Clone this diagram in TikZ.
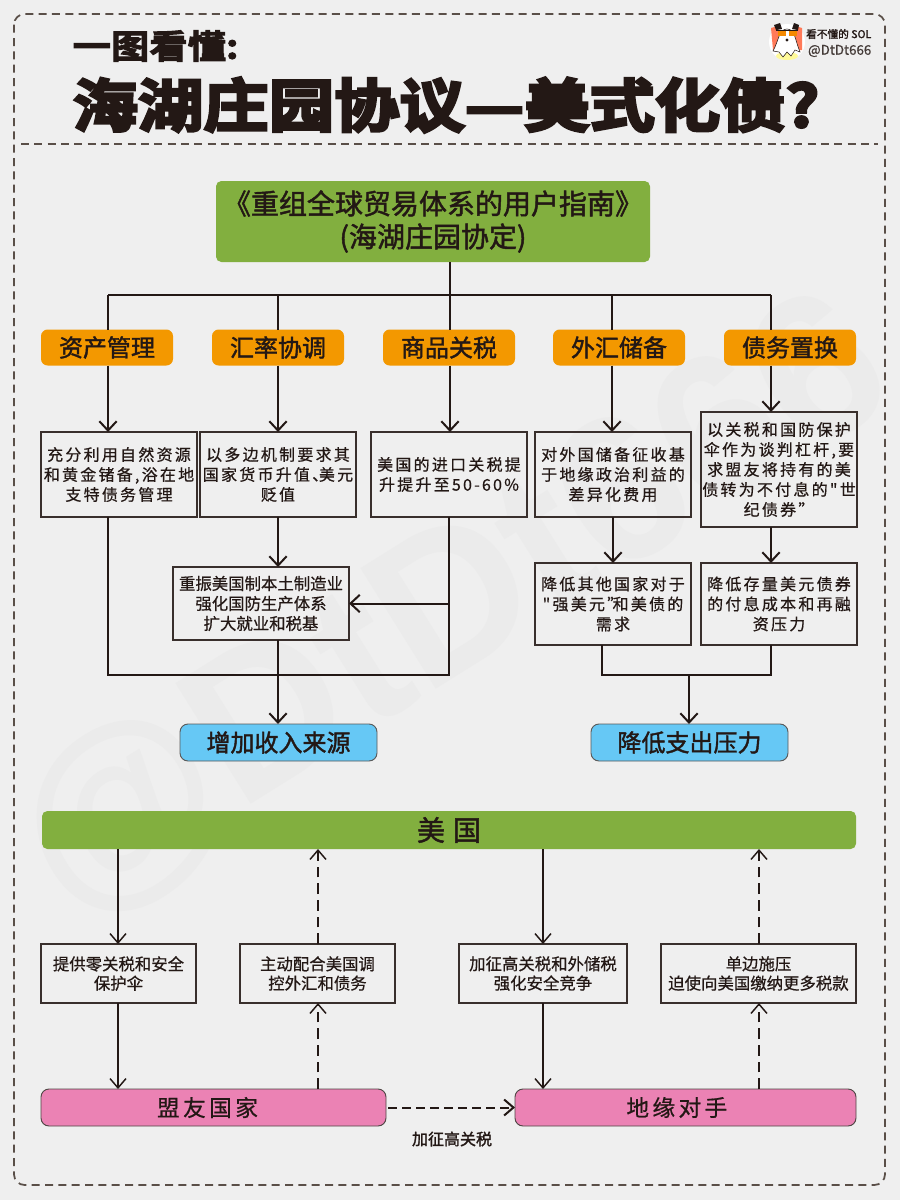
\documentclass[tikz,border=0pt]{standalone}
\usepackage{fontspec}
\usetikzlibrary{arrows.meta}
\setmainfont{Noto Sans CJK SC}
\newfontfamily\bigface[FakeStretch=1.14,FakeBold=5]{Noto Sans CJK SC Bold}
\newfontfamily\subface[FakeStretch=1.15,FakeBold=3]{Noto Sans CJK SC Bold}
\newfontfamily\bodyface[FakeBold=0.6]{Noto Sans CJK SC}
\newfontfamily\wideface[FakeBold=0.6,LetterSpace=14]{Noto Sans CJK SC}
\newfontfamily\midface[FakeBold=1.6]{Noto Sans CJK SC}
\newfontfamily\pinkface[FakeBold=0.7,LetterSpace=15]{Noto Sans CJK SC}
\newfontfamily\markface{Liberation Sans}
\definecolor{bgcol}{HTML}{EFEFEF}
\definecolor{markcol}{HTML}{EBEBEB}
\definecolor{inkcol}{HTML}{231815}
\definecolor{framecol}{HTML}{5A4F48}
\definecolor{greencol}{HTML}{82AF3F}
\definecolor{orangecol}{HTML}{F39800}
\definecolor{bluecol}{HTML}{66C8F5}
\definecolor{pinkcol}{HTML}{EB82B4}
\tikzstyle{block}=[inner sep=0pt,outer sep=0pt,align=center,text=inkcol]
\tikzstyle{greenbox}=[block,fill=greencol,rounded corners=4pt,font=\midface\fontsize{21}{24.75}\selectfont]
\tikzstyle{orangebox}=[block,fill=orangecol,rounded corners=5pt,font=\midface\fontsize{18}{20}\selectfont]
\tikzstyle{bluebox}=[block,fill=bluecol,draw=black!65,line width=0.7pt,rounded corners=6pt,font=\midface\fontsize{18}{20}\selectfont]
\tikzstyle{pinkbox}=[block,fill=pinkcol,draw=inkcol!80,line width=0.7pt,rounded corners=6pt,font=\pinkface\fontsize{17}{20}\selectfont]
\tikzstyle{textbox}=[block,draw=inkcol!90,line width=1.1pt,font=\wideface\fontsize{12}{15}\selectfont]
\tikzstyle{tightbox}=[textbox,font=\bodyface\fontsize{12.3}{15}\selectfont]
\tikzstyle{smallbox}=[textbox,font=\bodyface\fontsize{12.3}{14.5}\selectfont]
\tikzstyle{line}=[draw=inkcol,line width=1.5pt]
\tikzstyle{edge}=[line,-{Straight Barb[length=7pt,width=13pt]}]
\tikzstyle{thinedge}=[draw=inkcol,line width=1.1pt,-{Straight Barb[length=7pt,width=12pt]}]
\tikzstyle{dashedge}=[thinedge,dash pattern=on 8pt off 4.5pt]
\tikzstyle{crossedge}=[thinedge,line width=1.5pt,dash pattern=on 6.5pt off 4pt]
\tikzstyle{frame}=[draw=framecol,line width=1.3pt,dash pattern=on 6pt off 4pt]
\begin{document}
\begin{tikzpicture}[x=0.75pt,y=-0.75pt]

    \useasboundingbox[fill=bgcol] (0,0) rectangle (900,1200);
    \node[rotate=32,text=markcol,font=\markface\bfseries\fontsize{155}{155}\selectfont] (wmark) at (455,610) {@DtDt666};

    % frame and heading
    \draw[frame,rounded corners=8pt] (14,14) rectangle (885,1185);
    \coordinate (ruleL) at (21,144);
    \coordinate (ruleR) at (878,144);
    \draw[frame] (ruleL) -- (ruleR);
    \node[anchor=west,text=inkcol,font=\subface\fontsize{25}{26}\selectfont] (subtitle) at (68,46) {一图看懂:};
    \node[anchor=west,text=inkcol,font=\bigface\fontsize{43}{46}\selectfont] (title) at (68,105) {海湖庄园协议—美式化债?};

    % avatar
    \fill[white] (787,42) circle (18);
    \fill[yellow!40] (787,56) ellipse (11 and 4);
    \fill[red!60!orange!65] (771,28) -- (778,26) -- (781,50) -- (773,50) -- cycle;
    \fill[red!60!orange!65] (796,26) -- (802,28) -- (802,50) -- (794,50) -- cycle;
    \draw[inkcol,fill=white,line width=0.4pt] (773,51) .. controls (779,40) and (779,29) .. (787,29) .. controls (795,29) and (795,40) .. (800,52) -- (795,50) -- (791,56) -- (787,52) -- (783,57) -- (779,52) -- cycle;
    \fill[inkcol] (774,25) -- (780,23) -- (782,29) -- (776,30) -- cycle;
    \fill[inkcol] (794,23) -- (799,25) -- (798,30) -- (792,29) -- cycle;
    \fill[inkcol] (776,30) rectangle (798,31);
    \fill[orangecol!90!red] (778,31) rectangle (786,36);
    \fill[orangecol!90!red] (789,31) rectangle (797,36);
    \fill[inkcol] (787,40) circle (1.6);
    \node[anchor=east,text=inkcol,font=\midface\fontsize{8}{9}\selectfont] (handleA) at (876,34) {看不懂的 SOL};
    \node[anchor=east,text=inkcol!85,font=\bodyface\fontsize{10}{10}\selectfont] (handleB) at (876,51) {@DtDt666};

    % upper chart
    \node[greenbox,minimum width=325.5pt,minimum height=60.75pt] (guide) at (433,221.5) {《重组全球贸易体系的用户指南》\\(海湖庄园协定)};

    \foreach \x/\name/\lab in {107/A/资产管理, 278/B/汇率协调, 449/C/商品关税, 619/D/外汇储备, 790/E/债务置换}
        \node[orangebox,minimum width=99pt,minimum height=27pt] (org\name) at (\x,347.5) {\lab};

    \foreach \x/\name in {108/A, 278/B, 450/C, 612/D, 771/E}
        \coordinate (bus\name) at (\x,295);

    \foreach \x/\y/\w/\h/\name/\lab in {
        119/474.5/156/85/boxA/{充分利用自然资源\\和黄金锗备,浴在地\\支特债务管理},
        278/474.5/156/85/boxB/{以多边机制要求其\\国家货币升值、\hspace{-7pt}美元\\贬值},
        449/474.5/156/85/boxC/{美国的进口关税提\\升提升至50-60\%},
        613/474.5/156/85/boxD/{对外国储备征收基\\于地缘政治利益的\\差异化费用},
        779/469.5/156/115/boxE/{以关税和国防保护\\伞作为谈判杠杆,要\\求盟友将持有的美\\债转为不付息的"世\\纪债券”},
        613/604/156/82/boxG/{降低其他国家对于\\"强美元”\hspace{-8pt}和美债的\\需求},
        779/604/156/82/boxH/{降低存量美元债券\\的付息成本和再融\\资压力}}
        \node[textbox,minimum width=\w*0.75pt,minimum height=\h*0.75pt] (\name) at (\x,\y) {\lab};

    \node[tightbox,minimum width=132pt,minimum height=54.75pt] (boxF) at (261,603.5) {重振美国制本土制造业\\强化国防生产体系\\扩大就业和税基};

    \node[bluebox,minimum width=147.75pt,minimum height=27.75pt] (blueL) at (278.5,742.5) {增加收入来源};
    \node[bluebox,minimum width=147.75pt,minimum height=27.75pt] (blueR) at (689.5,742.5) {降低支出压力};

    \coordinate (joinL) at (278,675);
    \coordinate (joinR) at (689,675);
    \coordinate (footG) at (602,675);

    \draw[line] (busC |- guide.south) -- (busC);
    \draw[line] (busA) -- (busE);
    \foreach \name in {A,B,C,D,E}
        \draw[line] (bus\name) -- (bus\name |- org\name.north);
    \foreach \name in {A,B,C,D,E}
        \draw[edge] (bus\name |- org\name.south) -- (bus\name |- box\name.north);

    \draw[edge] (busB |- boxB.south) -- (busB |- boxF.north);
    \draw[line] (busA |- boxA.south) -- (busA |- joinL) -- (boxC.south |- joinL) -- (boxC.south);
    \draw[edge] (boxC.south |- boxF.east) -- (boxF.east);
    \draw[line] (busB |- boxF.south) -- (joinL);
    \draw[edge] (joinL) -- (busB |- blueL.north);

    \draw[edge] (boxD.south) -- (boxG.north);
    \draw[edge] (busE |- boxE.south) -- (busE |- boxH.north);
    \draw[line] (footG |- boxG.south) -- (footG) -- (busE |- footG) -- (busE |- boxH.south);
    \draw[edge] (joinR) -- (joinR |- blueR.north);

    % lower chart
    \node[greenbox,minimum width=610.5pt,minimum height=28.5pt,font=\midface\fontsize{21}{22}\selectfont] (usa) at (449,830) {美\hspace{6pt}国};

    \foreach \x/\w/\name/\lab in {
        118.5/155/midA/{提供零关税和安全\\保护伞},
        317.5/155/midB/{主动配合美国调\\控外汇和债务},
        543/168/midC/{加征高关税和外储税\\强化安全竞争},
        758.5/195/midD/{单边施压\\迫使向美国缴纳更多税款}}
        \node[smallbox,minimum width=\w*0.75pt,minimum height=44.25pt] (\name) at (\x,973.5) {\lab};

    \node[pinkbox,minimum width=258.75pt,minimum height=27.75pt] (ally) at (213.5,1107.5) {盟友国家\hspace{9pt}};
    \node[pinkbox,minimum width=255.75pt,minimum height=27.75pt] (rival) at (685.5,1107.5) {地缘对手\hspace{13pt}};
    \node[text=inkcol,font=\midface\fontsize{12}{13}\selectfont] (tariff) at (452,1139) {加征高关税};

    \foreach \x/\name in {118/A, 318/B, 543/C, 759/D}
        \coordinate (col\name) at (\x,849);

    \foreach \name/\dest in {A/ally, C/rival} {
        \draw[thinedge] (col\name) -- (col\name |- mid\name.north);
        \draw[thinedge] (col\name |- mid\name.south) -- (col\name |- \dest.north);
    }
    \foreach \name/\source in {B/ally, D/rival} {
        \draw[dashedge] (col\name |- mid\name.north) -- (col\name);
        \draw[dashedge] (col\name |- \source.north) -- (col\name |- mid\name.south);
    }
    \draw[crossedge] (ally.east) ++(2,0) -- (rival.west);

\end{tikzpicture}
\end{document}
